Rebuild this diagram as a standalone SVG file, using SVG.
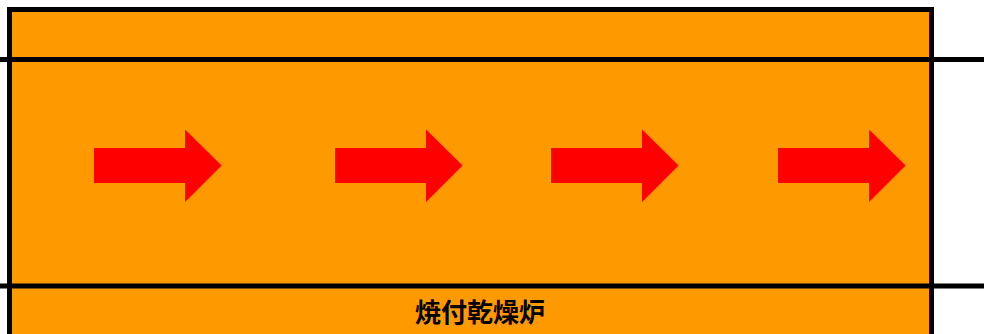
<svg xmlns="http://www.w3.org/2000/svg" width="984" height="334" viewBox="0 0 984 334">
<style>
.furnace{fill:#FF9900;stroke:#000;stroke-width:5}
.line{stroke:#000;stroke-width:5;fill:none}
.arrow{fill:#FF0000;stroke:none}
.label{font-family:"Noto Sans CJK JP","Noto Sans CJK SC",sans-serif;font-weight:bold;font-size:26px;fill:#000}
</style>
<defs>
<polygon id="arr" points="0,-17.5 91,-17.5 91,-36 127.5,0 91,36.5 91,17.5 0,17.5"/>
</defs>
<g id="furnace">
<rect class="furnace" x="9.5" y="9.5" width="922" height="340"/>
</g>
<g id="connectors">
<line class="line" x1="0" y1="59.5" x2="984" y2="59.5"/>
<line class="line" x1="0" y1="286" x2="984" y2="286"/>
</g>
<g id="arrow1"><use href="#arr" class="arrow" x="94" y="165.5"/></g>
<g id="arrow2"><use href="#arr" class="arrow" x="335" y="165.5"/></g>
<g id="arrow3"><use href="#arr" class="arrow" x="551" y="165.5"/></g>
<g id="arrow4"><use href="#arr" class="arrow" x="778" y="165.5"/></g>
<g id="label"><text class="label" x="480" y="322" text-anchor="middle">焼付乾燥炉</text></g>
</svg>
